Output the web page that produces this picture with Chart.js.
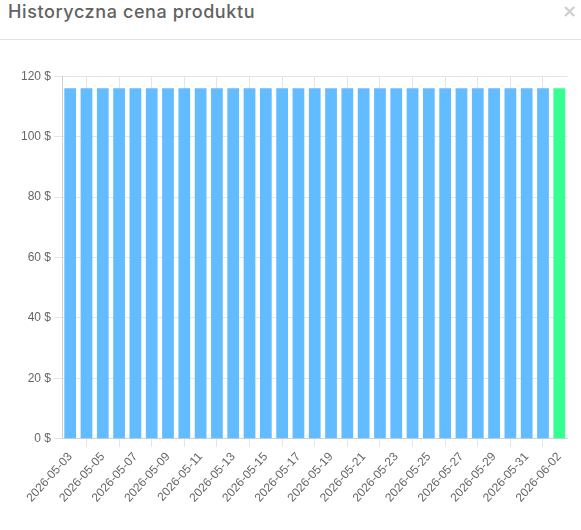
<!DOCTYPE html>
<html>
<head>
<meta charset="utf-8">
<script src="https://cdn.jsdelivr.net/npm/chart.js@4/dist/chart.umd.min.js"></script>
<style>
  html, body { margin: 0; padding: 0; background: #fff; width: 581px; height: 530px; overflow: hidden; }
  .header { position: absolute; left: 0; top: 0; width: 581px; height: 40px; border-bottom: 1px solid #e2e2e2; box-sizing: border-box; }
  .title { position: absolute; left: 8px; top: 1px; font-family: "Inter", sans-serif; font-size: 18px; font-weight: 500; color: #626262; letter-spacing: 0.6px; }
  .close { position: absolute; left: 562px; top: 0px; font-family: "DejaVu Sans", sans-serif; font-size: 18px; font-weight: bold; color: #cfcfcf; }
  .wrap { position: absolute; left: 0; top: 66px; width: 573px; height: 442px; }
</style>
</head>
<body>
<div class="header"><div class="title">Historyczna cena produktu</div><div class="close">×</div></div>
<div class="wrap"><canvas id="c"></canvas></div>
<script>
const labels = ["2026-05-03","2026-05-04","2026-05-05","2026-05-06","2026-05-07","2026-05-08","2026-05-09","2026-05-10","2026-05-11","2026-05-12","2026-05-13","2026-05-14","2026-05-15","2026-05-16","2026-05-17","2026-05-18","2026-05-19","2026-05-20","2026-05-21","2026-05-22","2026-05-23","2026-05-24","2026-05-25","2026-05-26","2026-05-27","2026-05-28","2026-05-29","2026-05-30","2026-05-31","2026-06-01","2026-06-02"];
const prices = [116,116,116,116,116,116,116,116,116,116,116,116,116,116,116,116,116,116,116,116,116,116,116,116,116,116,116,116,116,116,116];
const yTicks = [0,20,40,60,80,100,120];
const currency = " $";
const pastColor = "#62bcff";
const todayColor = "#35fe93";
const colors = prices.map((v, i) => i === prices.length - 1 ? todayColor : pastColor);

new Chart(document.getElementById('c'), {
  type: 'bar',
  data: { labels: labels, datasets: [{ data: prices, backgroundColor: colors, borderWidth: 0 }] },
  options: {
    responsive: true,
    maintainAspectRatio: false,
    animation: false,
    layout: { padding: { top: 4, right: 0, left: 18, bottom: 0 } },
    plugins: { legend: { display: false }, tooltip: { enabled: false } },
    scales: {
      x: {
        grid: { color: '#e5e5e5', drawTicks: true, tickLength: 8 },
        border: { color: '#d0d0d0' },
        ticks: { color: '#666', font: { family: 'Liberation Sans', size: 12 }, minRotation: 48, maxRotation: 48, autoSkip: true, autoSkipPadding: 3 }
      },
      y: {
        min: yTicks[0], max: yTicks[yTicks.length - 1],
        afterBuildTicks: (s) => { s.ticks = yTicks.map(v => ({ value: v })); },
        grid: { color: '#e5e5e5', tickLength: 8 },
        border: { color: '#d0d0d0' },
        ticks: { color: '#666', font: { family: 'Liberation Sans', size: 12 }, callback: (v) => v + currency }
      }
    }
  }
});
</script>
</body>
</html>
